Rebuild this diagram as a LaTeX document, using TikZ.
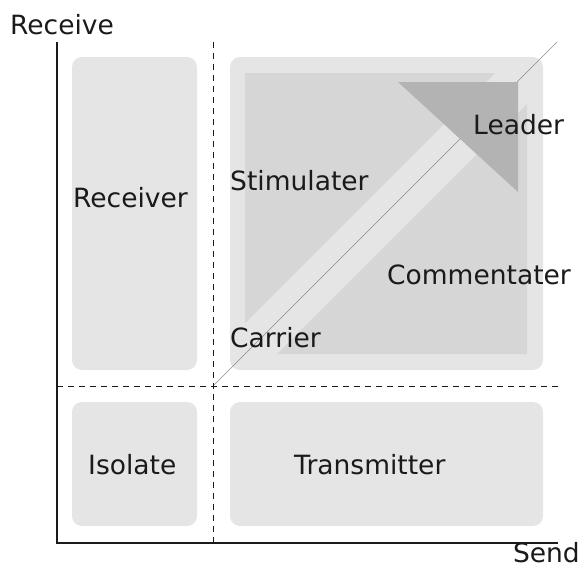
\documentclass[tikz,border=0pt]{standalone}
\usepackage{fontspec}
\setmainfont{DejaVu Sans}
\usepackage{xcolor}
\usepackage{tikz}
\usetikzlibrary{calc,positioning}
\definecolor{boxc}{HTML}{E5E5E5}
\definecolor{midc}{HTML}{D6D6D6}
\definecolor{darkc}{HTML}{B3B3B3}
\definecolor{diagc}{HTML}{8C8C8C}
\definecolor{inkc}{HTML}{1A1A1A}
\tikzset{
  pane/.style={fill=boxc,rounded corners=10pt},
  lbl/.style={anchor=base west,inner sep=0pt,text=inkc,font=\fontsize{26.5}{32}\selectfont},
  axis/.style={inkc,line width=1.3pt},
  grid/.style={inkc,line width=1pt,dash pattern=on 6pt off 5pt}
}

\begin{document}
\begin{tikzpicture}[x=1pt,y=-1pt]
\useasboundingbox (0,0) rectangle (582,568);
% panes of the four quadrants
\fill[pane] (72,57) rectangle (197,370);
\fill[pane] (72,402) rectangle (197,526);
\fill[pane] (230,402) rectangle (543,526);
\fill[pane] (230,57) rectangle (543,370);
% the two halves of the upper right pane
\fill[midc] (245,73)--(495,73)--(245,323)--cycle;
\fill[midc] (527,104)--(527,354)--(277,354)--cycle;
% axes and quadrant borders
\coordinate (o) at (57,543);
\coordinate (ytop) at (57,42);
\coordinate (xend) at (558,543);
\coordinate (mid) at (213,386);
\coordinate (vtop) at (213,42);
\coordinate (vbot) at (213,543);
\coordinate (hl) at (57,386);
\coordinate (hr) at (558,386);
\coordinate (dtop) at (557,42);
\draw[diagc,line width=0.6pt] (mid)--(dtop);
\fill[darkc] (398,82)--(518,82)--(518,192)--cycle;
\draw[grid] (vtop)--(vbot);
\draw[grid] (hl)--(hr);
\draw[axis] (ytop)--(o)--(xend);
% labels
\node[lbl] (recv) at (10,34) {Receive};
\node[lbl,anchor=base east] (send) at (580,562) {Send};
\node[lbl] (receiver) at (73,207) {Receiver};
\node[lbl] (stim) at (230,190) {Stimulater};
\node[lbl] (leader) at (473,134) {Leader};
\node[lbl] (comm) at (387,284) {Commentater};
\node[lbl] (carrier) at (230,347) {Carrier};
\node[lbl] (isolate) at (88,474) {Isolate};
\node[lbl] (trans) at (294,474) {Transmitter};
\end{tikzpicture}
\end{document}
